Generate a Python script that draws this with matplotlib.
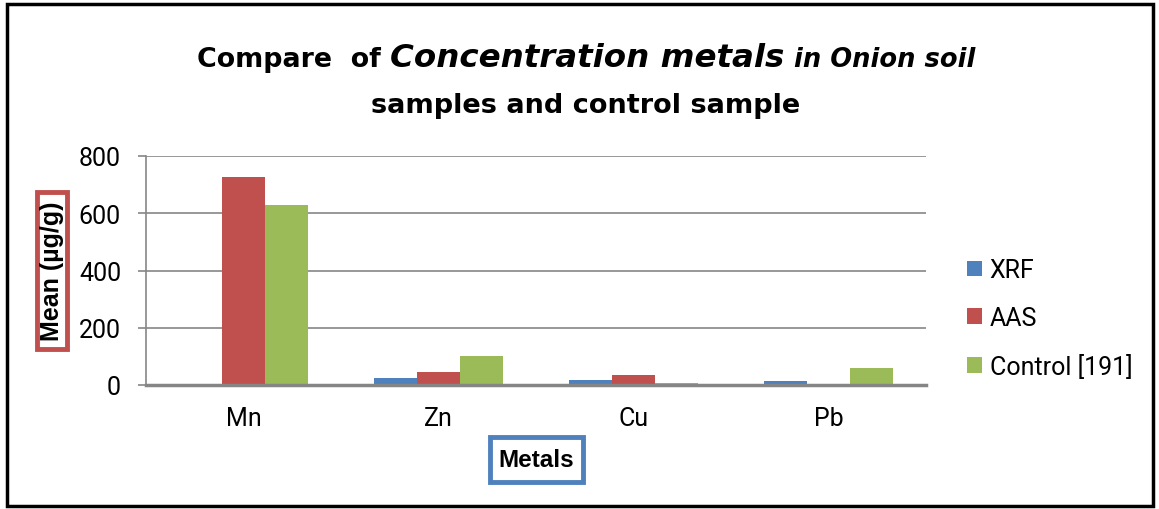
import matplotlib
matplotlib.use("Agg")
import matplotlib.pyplot as plt
from matplotlib.patches import Rectangle
import numpy as np

metals = ["Mn", "Zn", "Cu", "Pb"]
xrf = [3, 24, 17, 13]
aas = [725, 46, 34, 0]
control = [629, 102, 8, 58]
series_names = ["XRF", "AAS", "Control [191]"]
colors = ["#4F81BD", "#C0504D", "#9BBB59"]
yticks = [0, 200, 400, 600, 800]

W, H = 1159, 510
fig = plt.figure(figsize=(W / 100, H / 100), dpi=100)
fig.patch.set_facecolor("white")

ax = fig.add_axes([146 / W, 1 - 386 / H, (926 - 146) / W, (386 - 157) / H])

x = np.arange(len(metals))
bw = 0.222
for i, (vals, name, c) in enumerate(zip([xrf, aas, control], series_names, colors)):
    ax.bar(x + (i - 1) * bw, vals, width=bw, color=c, label=name, zorder=3)

ax.set_xlim(-0.5, len(metals) - 0.5)
ax.set_ylim(0, 800)
ax.set_yticks(yticks)
ax.set_yticklabels([str(v) for v in yticks], fontsize=18, family="Roboto")
ax.set_xticks(x)
ax.set_xticklabels(metals, fontsize=18, family="Roboto")
ax.tick_params(axis="x", length=0, pad=15)
ax.tick_params(axis="y", length=6, width=1.2, color="#868686", pad=12, direction="out")
ax.yaxis.grid(True, color="#868686", linewidth=1.2, zorder=0)
for s in ["top", "right"]:
    ax.spines[s].set_visible(False)
ax.spines["left"].set_color("#868686")
ax.spines["left"].set_linewidth(1.2)
ax.spines["bottom"].set_color("#868686")
ax.spines["bottom"].set_linewidth(2.5)
ax.spines["bottom"].set_zorder(4)


def boxed_label(text, x0, y0, x1, y1, edge, rotation=0, size=17):
    """Axis title centred in an outlined box given in pixel coordinates."""
    fig.patches.append(Rectangle((x0 / W, 1 - y1 / H), (x1 - x0) / W, (y1 - y0) / H,
                                 transform=fig.transFigure, facecolor="white",
                                 edgecolor=edge, linewidth=3.5))
    fig.text((x0 + x1) / 2 / W, 1 - (y0 + y1) / 2 / H, text, rotation=rotation,
             ha="center", va="center", fontsize=size, fontweight="bold",
             family="Liberation Sans")


boxed_label("Mean (µg/g)", 37, 193, 67, 350, "#C0504D", rotation=90, size=18)
boxed_label("Metals", 490, 438, 583, 483, "#4F81BD", size=17.5)

# legend
ax.legend(loc="center left", bbox_to_anchor=(1.024, 0.29), frameon=False,
          prop=dict(family="Roboto", size=18), handlelength=0.6, handleheight=0.6,
          handletextpad=0.3, labelspacing=0.95)

# title built from pieces with mixed styles, fitted to the heading width
title_kw = dict(family="DejaVu Sans", fontweight="bold")
pieces = [
    ("Compare  of ", 24, "normal"),
    ("Concentration metals", 29, "italic"),
    (" in Onion soil", 23, "italic"),
]
fig.canvas.draw()
renderer = fig.canvas.get_renderer()
texts = [fig.text(0, 1 - 67 / H, s, fontsize=size, style=style, ha="left", va="baseline", **title_kw)
         for s, size, style in pieces]
total = sum(t.get_window_extent(renderer).width for t in texts)
k = 778 / total
for t, (s, size, style) in zip(texts, pieces):
    t.set_fontsize(size * k)
widths = [t.get_window_extent(renderer).width for t in texts]
x0 = 586 - sum(widths) / 2
for t, w in zip(texts, widths):
    t.set_x(x0 / W)
    x0 += w

line2 = fig.text(586 / W, 1 - 113 / H, "samples and control sample", fontsize=24,
                 ha="center", va="baseline", **title_kw)
w2 = line2.get_window_extent(renderer).width
line2.set_fontsize(24 * 430 / w2)

# outer frame
fig.patches.append(Rectangle((7 / W, 1 - 507 / H), (1153 - 7) / W, (507 - 5) / H,
                             transform=fig.transFigure, fill=False, edgecolor="black",
                             linewidth=2.5))

fig.savefig("out.png", dpi=100, facecolor="white")
